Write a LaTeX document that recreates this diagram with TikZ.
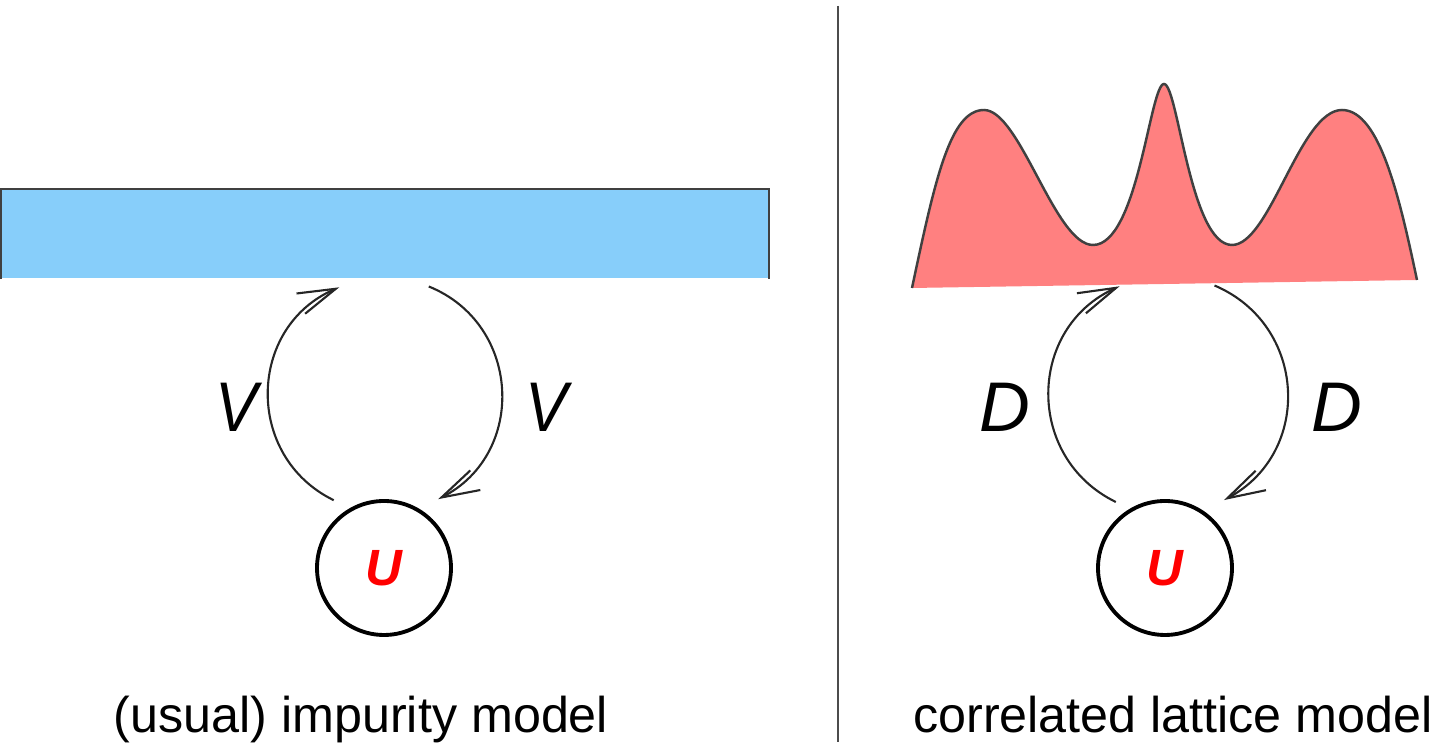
\documentclass[tikz,border=0pt]{standalone}
\usepackage{fontspec}
\setmainfont{Liberation Sans}
\usepackage{tikz}
\usetikzlibrary{arrows.meta}
\definecolor{bathblue}{RGB}{135,206,250}
\definecolor{dospink}{RGB}{255,128,128}

\begin{document}
\begin{tikzpicture}[semithick,
  hop/.style={line width=0.6pt,draw=black!85,-{Straight Barb[length=3.8mm,width=2.2mm]}},
  site/.style={draw,circle,line width=1.1pt,minimum size=1.34cm,inner sep=0pt,text=red,
    font=\fontsize{14.5}{16}\selectfont\bfseries\itshape},
  coupling/.style={font=\fontsize{20}{24}\selectfont\itshape},
  caption/.style={anchor=base,font=\fontsize{14.3}{17}\selectfont}]
  \useasboundingbox (0,0) rectangle (14.4,-7.46);

  % impurity model
  \node [fill=bathblue,minimum width=7.66cm,minimum height=0.88cm,inner sep=0pt] (bath) at (3.85,-2.34) {};
  \draw [black!75,line width=0.7pt] (bath.south west) -- (bath.north west) -- (bath.north east) -- (bath.south east);
  \node [site] (imp) at (3.84,-5.68) {U};
  \coordinate (imp up) at (3.337,-5.002);
  \coordinate (bath in) at (3.393,-2.873);
  \coordinate (bath out) at (4.288,-2.865);
  \coordinate (imp down) at (4.381,-4.992);
  \draw [hop] (imp up) to[out=154,in=203,looseness=1.2] (bath in);
  \draw [hop] (bath out) to[out=-22,in=27,looseness=1.2] (imp down);
  \node [coupling,xscale=0.9] (vl) at (2.37,-4.07) {V};
  \node [coupling,xscale=0.9] (vr) at (5.47,-4.07) {V};
  \node [caption] (cap1) at (3.61,-7.33) {(usual) impurity model};

  \draw [black!70,line width=0.6pt] (8.38,-0.06) -- (8.38,-7.42);

  % lattice model
  \fill [dospink] (9.12,-2.88) .. controls (9.35,-1.8) and (9.5,-1.10) .. (9.84,-1.10)
    .. controls (10.2,-1.10) and (10.55,-2.45) .. (10.93,-2.45)
    .. controls (11.38,-2.45) and (11.50,-0.84) .. (11.64,-0.84)
    .. controls (11.78,-0.84) and (11.90,-2.45) .. (12.32,-2.45)
    .. controls (12.7,-2.45) and (13.0,-1.10) .. (13.42,-1.10)
    .. controls (13.8,-1.10) and (14.0,-2.0) .. (14.17,-2.80) -- cycle;
  \draw [black!75,line width=0.7pt] (9.12,-2.88) .. controls (9.35,-1.8) and (9.5,-1.10) .. (9.84,-1.10)
    .. controls (10.2,-1.10) and (10.55,-2.45) .. (10.93,-2.45)
    .. controls (11.38,-2.45) and (11.50,-0.84) .. (11.64,-0.84)
    .. controls (11.78,-0.84) and (11.90,-2.45) .. (12.32,-2.45)
    .. controls (12.7,-2.45) and (13.0,-1.10) .. (13.42,-1.10)
    .. controls (13.8,-1.10) and (14.0,-2.0) .. (14.17,-2.80);
  \node [site] (latt) at (11.65,-5.68) {U};
  \coordinate (latt up) at (11.158,-5.020);
  \coordinate (dos in) at (11.196,-2.863);
  \coordinate (dos out) at (12.145,-2.855);
  \coordinate (latt down) at (12.239,-5.001);
  \draw [hop] (latt up) to[out=154,in=204,looseness=1.2] (dos in);
  \draw [hop] (dos out) to[out=-23,in=28,looseness=1.2] (latt down);
  \node [coupling] (dl) at (10.05,-4.07) {D};
  \node [coupling] (dr) at (13.37,-4.07) {D};
  \node [caption] (cap2) at (11.73,-7.33) {correlated lattice model};
\end{tikzpicture}
\end{document}
